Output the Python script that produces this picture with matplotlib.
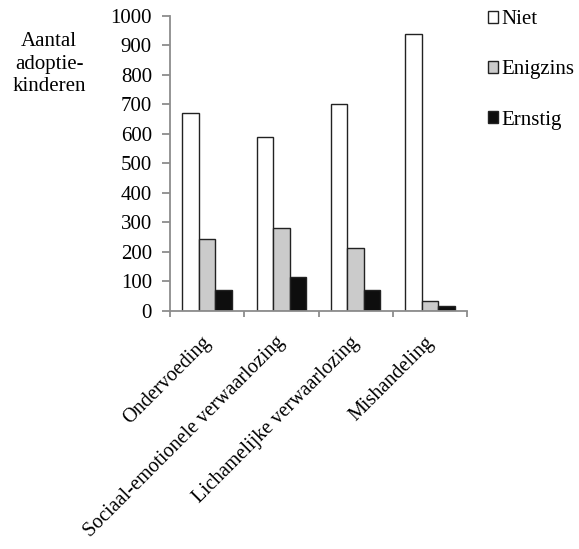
import numpy as np
import matplotlib.pyplot as plt
import matplotlib.transforms as mtransforms
from matplotlib.patches import Patch

plt.rcParams['font.family'] = ['Liberation Serif', 'DejaVu Serif']

categories = ['Ondervoeding', 'Sociaal-emotionele verwaarlozing',
              'Lichamelijke verwaarlozing', 'Mishandeling']
niet = [671, 589, 702, 937]
enigzins = [245, 281, 214, 35]
ernstig = [71, 115, 71, 17]
series_names = ['Niet', 'Enigzins', 'Ernstig']
colors = ['white', '#cbcbcb', '#0e0e0e']

fig = plt.figure(figsize=(5.79, 5.49), dpi=100)
ax = fig.add_axes([0.2936, 0.4335, 0.5130, 0.5379])

x = np.arange(len(categories))
w = 0.222
for i, (vals, col) in enumerate(zip([niet, enigzins, ernstig], colors)):
    ax.bar(x + (i - 1) * w, vals, w, color=col, edgecolor='#222222', linewidth=1.0)

ax.set_xlim(-0.5, 3.5)
ax.set_ylim(0, 1000)
ax.set_yticks(np.arange(0, 1001, 100))

for s in ['top', 'right']:
    ax.spines[s].set_visible(False)
for s in ['left', 'bottom']:
    ax.spines[s].set_color('#8c8c8c')
    ax.spines[s].set_linewidth(1.3)

fs = 15
ax.tick_params(axis='y', direction='out', length=6, width=1.3, color='#8c8c8c',
               labelsize=fs, pad=7)
ax.set_xticks(x)
ax.set_xticks(np.arange(-0.5, 4, 1), minor=True)
ax.tick_params(axis='x', which='major', length=0, pad=16)
ax.tick_params(axis='x', which='minor', length=4.5, width=1.3, color='#8c8c8c')
ax.set_xticklabels(categories, fontsize=14.5, rotation=45, ha='right',
                   va='top', rotation_mode='anchor')
shift = mtransforms.ScaledTranslation(-6 / 100, 0, fig.dpi_scale_trans)
for lbl in ax.get_xticklabels():
    lbl.set_transform(lbl.get_transform() + shift)

fig.text(49 / 579, 1 - 64 / 549, 'Aantal\nadoptie-\nkinderen', ha='center',
         va='center', fontsize=fs, linespacing=1.27)

handles = [Patch(facecolor=c, edgecolor='#222222', linewidth=1.0) for c in colors]
fig.legend(handles, series_names, loc='upper left',
           bbox_to_anchor=(488 / 579, 1 - 10 / 549), frameon=False,
           fontsize=fs, handlelength=0.5, handleheight=0.5,
           handletextpad=0.15, labelspacing=1.5, borderpad=0, borderaxespad=0)

fig.savefig('out.png', dpi=100)
